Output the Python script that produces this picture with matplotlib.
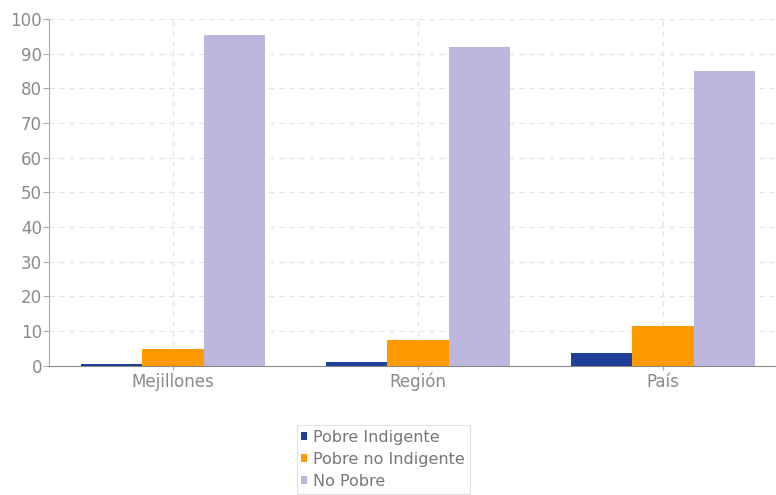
import matplotlib.pyplot as plt
import numpy as np

# Data
categories = ['Mejillones', 'Región', 'País']
pobre_indigente = [0.4, 1.0, 3.8]
pobre_no_indigente = [4.9, 7.5, 11.5]
no_pobre = [95.2, 92.0, 85.0]
series_names = ['Pobre Indigente', 'Pobre no Indigente', 'No Pobre']
colors = ['#1f3f99', '#ff9900', '#bcb8dd']

plt.rcParams['font.family'] = ['DejaVu Sans']

fig = plt.figure(figsize=(7.76, 4.95), dpi=100)
ax = fig.add_axes([0.063, 0.261, 0.937, 0.701])

x = np.arange(len(categories))
width = 0.25
for i, (vals, name, col) in enumerate(zip([pobre_indigente, pobre_no_indigente, no_pobre],
                                          series_names, colors)):
    ax.bar(x + (i - 1) * width, vals, width, color=col, label=name, zorder=3)

ax.set_xlim(-0.506, 2.461)
ax.set_ylim(0, 100)
ax.set_yticks(range(0, 101, 10))
ax.set_xticks(x)
ax.set_xticklabels(categories)

# Light dashed grid
ax.grid(True, linestyle=(0, (4, 4)), color='#e4e4e4', linewidth=0.9, zorder=0)

for side in ['top', 'right']:
    ax.spines[side].set_visible(False)
ax.spines['left'].set_color('#aaaaaa')
ax.spines['bottom'].set_color('#888888')
ax.tick_params(axis='both', colors='#aaaaaa', labelcolor='#8a8a8a', labelsize=12, length=4)
ax.tick_params(axis='x', length=3, pad=2)
ax.tick_params(axis='y', pad=1)

leg = fig.legend(loc='upper left', bbox_to_anchor=(0.372, 0.158), frameon=True,
                 fontsize=11.5, handlelength=0.35, handleheight=0.35, handletextpad=0.4,
                 labelspacing=0.45, borderpad=0.3, fancybox=False, shadow=False)
leg.get_frame().set_edgecolor('#dddddd')
leg.get_frame().set_linewidth(0.8)
for t in leg.get_texts():
    t.set_color('#777777')

fig.savefig('out.png', dpi=100)
